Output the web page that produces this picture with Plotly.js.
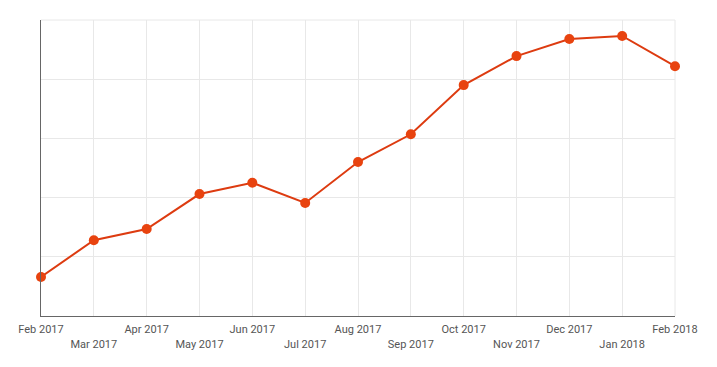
<!DOCTYPE html>
<html>
<head>
<meta charset="utf-8">
<script src="https://cdn.plot.ly/plotly-3.0.1.min.js"></script>
<style>html,body{margin:0;padding:0;background:#fff;}#chart{width:717px;height:367px;}</style>
</head>
<body>
<div id="chart"></div>
<script>
const months = ["Feb 2017","Mar 2017","Apr 2017","May 2017","Jun 2017","Jul 2017","Aug 2017","Sep 2017","Oct 2017","Nov 2017","Dec 2017","Jan 2018","Feb 2018"];
const values = [0.66, 1.28, 1.47, 2.06, 2.25, 1.91, 2.60, 3.07, 3.90, 4.39, 4.68, 4.73, 4.22];
const tickLabels = months.map((m, i) => i % 2 === 1 ? "<br>" + m : m);

const trace = {
  x: months,
  y: values,
  type: "scatter",
  mode: "lines+markers",
  line: {color: "#dd3b10", width: 2},
  marker: {color: "#e8430f", size: 10},
  cliponaxis: false,
  hoverinfo: "x+y"
};

const grid = "#e8e8e8";
const layout = {
  width: 717, height: 367,
  margin: {l: 41, r: 42, t: 20, b: 51},
  paper_bgcolor: "#fff", plot_bgcolor: "#fff",
  showlegend: false,
  font: {family: "Roboto, sans-serif", size: 11, color: "#555"},
  xaxis: {
    type: "category",
    range: [0, 12],
    tickvals: months,
    ticktext: tickLabels,
    showgrid: true, gridcolor: grid, gridwidth: 1,
    showline: true, linecolor: "#666", linewidth: 1,
    ticks: "", ticklabelstandoff: 3,
    tickfont: {family: "Roboto, sans-serif", size: 11, color: "#555"},
    zeroline: false, fixedrange: true
  },
  yaxis: {
    range: [0, 5],
    dtick: 1,
    showticklabels: false,
    showgrid: true, gridcolor: grid, gridwidth: 1,
    showline: true, linecolor: "#666", linewidth: 1,
    ticks: "", zeroline: false, fixedrange: true
  },
  shapes: [
    {type: "line", xref: "paper", yref: "paper", x0: 0, x1: 1, y0: 1, y1: 1, line: {color: grid, width: 1}, layer: "below"},
    {type: "line", xref: "paper", yref: "paper", x0: 1, x1: 1, y0: 0, y1: 1, line: {color: grid, width: 1}, layer: "below"}
  ]
};

Plotly.newPlot("chart", [trace], layout, {displayModeBar: false, staticPlot: true});
</script>
</body>
</html>
